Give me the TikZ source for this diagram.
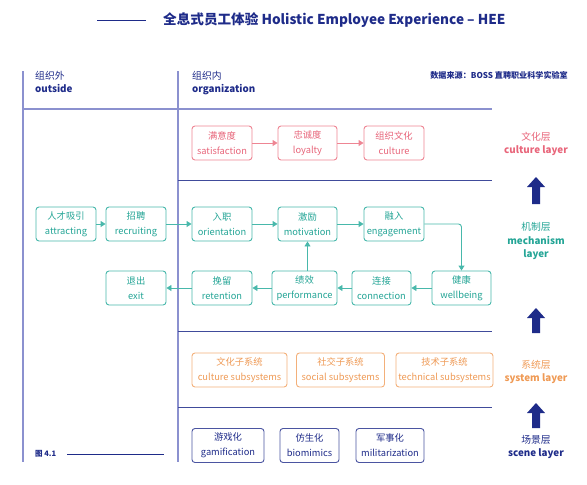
\documentclass[tikz,border=0pt]{standalone}
\usepackage{fontspec}
\setmainfont{Noto Sans CJK SC}
\usetikzlibrary{arrows.meta}
\definecolor{cred}{HTML}{E8657A}
\definecolor{credline}{HTML}{EE8593}
\definecolor{cteal}{HTML}{24A596}
\definecolor{ctealline}{HTML}{48B8AB}
\definecolor{corange}{HTML}{EF9A55}
\definecolor{corangeline}{HTML}{F3B07A}
\definecolor{cblue}{HTML}{1E2B89}
\definecolor{cpurple}{HTML}{8B91CF}
\begin{document}
\begin{tikzpicture}[x=1pt,y=-1pt,
  box/.style={draw, rounded corners=3pt, line width=0.9pt, fill=white, align=center,
    font=\fontsize{9.3}{15}\selectfont, inner sep=0pt, minimum height=34pt},
  redbox/.style={box, draw=credline, text=cred},
  tealbox/.style={box, draw=ctealline, text=cteal},
  orangebox/.style={box, draw=corangeline, text=corange},
  bluebox/.style={box, draw=cblue!80, text=cblue},
  redarrow/.style={draw=credline, line width=0.9pt, -{Triangle[length=5pt,width=6pt]}},
  tealarrow/.style={draw=ctealline, line width=0.9pt, -{Triangle[length=5pt,width=6pt]}},
  sepline/.style={draw=cpurple, line width=1.2pt},
  layerline/.style={draw=cblue!85, line width=0.8pt},
  bigarrow/.style={fill=cblue, draw=none},
  layerlabel/.style={align=center, font=\fontsize{9.8}{13.5}\selectfont},
]
\useasboundingbox (0,0) rectangle (587,485);

% title
\coordinate (tl1) at (97,20);
\coordinate (tl2) at (146,20);
\draw[cblue, line width=1pt] (tl1) -- (tl2);
\node[anchor=west, inner sep=0pt, text=cblue, font=\fontsize{13.6}{15}\selectfont\bfseries] (title) at (163,20)
  {全息式员工体验 Holistic Employee Experience – HEE};

% source
\node[anchor=east, inner sep=0pt, text=cblue, font=\fontsize{8.1}{10}\selectfont\bfseries] (src) at (568,75)
  {数据来源：BOSS 直聘职业科学实验室};

% separators
\coordinate (v1t) at (23,71); \coordinate (v1b) at (23,462);
\coordinate (v2t) at (178,71); \coordinate (v2b) at (178,462);
\draw[sepline] (v1t) -- (v1b);
\draw[sepline] (v2t) -- (v2b);
\coordinate (h0a) at (23,109); \coordinate (h0b) at (492,109);
\draw[sepline] (h0a) -- (h0b);
\coordinate (h1a) at (178,180); \coordinate (h1b) at (492,180);
\coordinate (h2a) at (178,331); \coordinate (h2b) at (492,331);
\coordinate (h3a) at (178,407); \coordinate (h3b) at (492,407);
\draw[layerline] (h1a) -- (h1b);
\draw[layerline] (h2a) -- (h2b);
\draw[layerline] (h3a) -- (h3b);

% headers
\node[anchor=north west, inner sep=0pt, align=left, text=cblue, font=\fontsize{9.8}{13.5}\selectfont] (hout) at (35,71)
  {组织外\\\textbf{outside}};
\node[anchor=north west, inner sep=0pt, align=left, text=cblue, font=\fontsize{9.8}{13.5}\selectfont] (hin) at (192,71)
  {组织内\\\textbf{organization}};

% culture layer
\node[redbox, minimum width=60pt] (sat) at (222,143) {满意度\\satisfaction};
\node[redbox, minimum width=59pt] (loy) at (307.5,143) {忠诚度\\loyalty};
\node[redbox, minimum width=60pt] (cul) at (394,143) {组织文化\\culture};
\draw[redarrow] (sat) -- (loy);
\draw[redarrow] (loy) -- (cul);

% mechanism layer
\node[tealbox, minimum width=60pt] (att) at (66,224) {人才吸引\\attracting};
\node[tealbox, minimum width=60pt] (rec) at (136,224) {招聘\\recruiting};
\node[tealbox, minimum width=60pt] (ori) at (222,224) {入职\\orientation};
\node[tealbox, minimum width=59pt] (mot) at (307.5,224) {激励\\motivation};
\node[tealbox, minimum width=60pt] (eng) at (394,224) {融入\\engagement};
\node[tealbox, minimum width=60pt] (exi) at (136,288) {退出\\exit};
\node[tealbox, minimum width=60pt] (ret) at (222,288) {挽留\\retention};
\node[tealbox, minimum width=65pt] (per) at (304.5,288) {绩效\\performance};
\node[tealbox, minimum width=59pt] (con) at (381.5,288) {连接\\connection};
\node[tealbox, minimum width=59pt] (wel) at (461.5,288) {健康\\wellbeing};
\draw[tealarrow] (att) -- (rec);
\draw[tealarrow] (rec) -- (ori);
\draw[tealarrow] (ori) -- (mot);
\draw[tealarrow] (mot) -- (eng);
\draw[tealarrow, rounded corners=3pt] (eng.east) -| (wel.north);
\draw[tealarrow] (wel) -- (con);
\draw[tealarrow] (con) -- (per);
\draw[tealarrow] (per.north -| mot.south) -- (mot.south);
\draw[tealarrow] (per) -- (ret);
\draw[tealarrow] (ret) -- (exi);

% system layer
\node[orangebox, minimum width=95pt] (cs) at (239.5,370) {文化子系统\\culture subsystems};
\node[orangebox, minimum width=88pt] (ss) at (340.5,370) {社交子系统\\social subsystems};
\node[orangebox, minimum width=97pt] (ts) at (444.5,370) {技术子系统\\technical subsystems};

% scene layer
\node[bluebox, minimum width=72pt] (gam) at (228,445.5) {游戏化\\gamification};
\node[bluebox, minimum width=59pt] (bio) at (309.5,445.5) {仿生化\\biomimics};
\node[bluebox, minimum width=68pt] (mil) at (390,445.5) {军事化\\militarization};

% layer labels
\node[layerlabel, text=cred] (lcul) at (536,144) {文化层\\\textbf{culture layer}};
\node[layerlabel, text=cteal] (lmec) at (536,241) {机制层\\\textbf{mechanism}\\\textbf{layer}};
\node[layerlabel, text=corange] (lsys) at (536,372) {系统层\\\textbf{system layer}};
\node[layerlabel, text=cblue] (lsce) at (536,447) {场景层\\\textbf{scene layer}};

% big arrows
\foreach \t/\b in {177/204, 308/333, 403/428} {
  \fill[bigarrow] (536,\t) -- (545,\t+10) -- (540,\t+10) -- (540,\b) -- (532,\b) -- (532,\t+10) -- (527,\t+10) -- cycle;
}

% caption
\node[anchor=west, inner sep=0pt, text=cblue, font=\fontsize{7.5}{9}\selectfont\bfseries] (cap) at (35,454) {图 4.1};
\coordinate (c1) at (67,454); \coordinate (c2) at (164,454);
\draw[cblue, line width=0.9pt] (c1) -- (c2);
\end{tikzpicture}
\end{document}
